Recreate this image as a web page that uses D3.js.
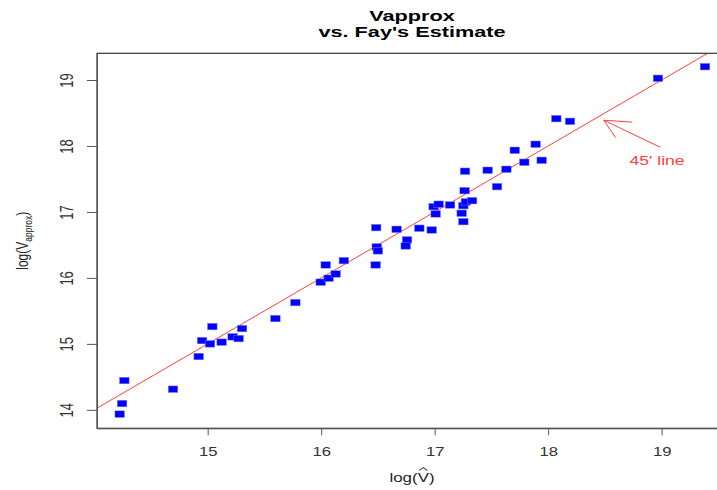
<!DOCTYPE html>
<html>
<head>
<meta charset="utf-8">
<script src="https://cdn.jsdelivr.net/npm/d3@7"></script>
<style>
  body { margin: 0; background: #fff; }
  svg { display: block; font-family: "Liberation Sans", Arial, sans-serif; }
</style>
</head>
<body>
<div id="chart"></div>
<script>
// log(V-hat) vs log(Vapprox)
const logVhat = [
  14.225, 14.246, 14.266, 14.695, 14.921, 14.951, 15.021, 15.041, 15.123, 15.22,
  15.273, 15.303, 15.597, 15.773, 15.996, 16.066, 16.128, 16.04, 16.2, 16.48,
  16.49, 16.50, 16.485, 16.665, 16.757, 16.745, 16.865, 16.974, 16.991, 17.035,
  17.009, 17.136, 17.264, 17.238, 17.253, 17.253, 17.275, 17.33, 17.268, 17.467,
  17.55, 17.632, 17.706, 17.79, 17.89, 17.943, 18.072, 18.193, 18.968, 19.382
];
const logVapprox = [
  13.935, 14.095, 14.444, 14.313, 14.808, 15.05, 15.0, 15.262, 15.026, 15.106,
  15.08, 15.232, 15.384, 15.626, 15.935, 15.995, 16.06, 16.197, 16.262, 16.197,
  16.47, 16.41, 16.762, 16.737, 16.576, 16.485, 16.753, 16.727, 17.08, 17.117,
  16.97, 17.106, 17.323, 16.98, 16.853, 17.095, 17.152, 17.171, 17.617, 17.632,
  17.383, 17.647, 17.935, 17.753, 18.026, 17.783, 18.414, 18.374, 19.026, 19.202
];
const xTicks = [15, 16, 17, 18, 19];
const yTicks = [14, 15, 16, 17, 18, 19];
const titleLines = ["Vapprox", "vs. Fay's Estimate"];
// arrow annotation in data units: [tail, tip], and label position
const arrowTail = [18.99, 17.98];
const arrowTip = [18.49, 18.39];
const noteAt = [18.96, 17.71];
const noteText = "45' line";

// original graphic was stretched sideways, text follows that
const SX = 1.5;
const width = 717, height = 490;
const layout = { left: 97, right: 732, top: 53.3, bottom: 428.3 };
const red = '#ff4040';

const svg = d3.select('#chart').append('svg')
  .attr('width', width)
  .attr('height', height);

const x = d3.scaleLinear().domain([14.025, 19.62]).range([layout.left, layout.right]);
const y = d3.scaleLinear().domain([13.72, 19.405]).range([layout.bottom, layout.top]);

svg.append('clipPath').attr('id', 'plotClip')
  .append('rect')
  .attr('x', layout.left).attr('y', layout.top)
  .attr('width', layout.right - layout.left)
  .attr('height', layout.bottom - layout.top);

// title
const titleG = svg.append('g')
  .attr('transform', `translate(412,0) scale(1.55,1)`);
titleG.selectAll('text').data(titleLines).enter().append('text')
  .attr('x', 0)
  .attr('y', (d, i) => 21 + i * 16)
  .attr('text-anchor', 'middle')
  .attr('font-weight', 'bold')
  .attr('font-size', 14)
  .attr('fill', '#000')
  .text(d => d);

// 45 degree line
const lineDomain = [13.5, 19.8];
svg.append('line')
  .attr('clip-path', 'url(#plotClip)')
  .attr('x1', x(lineDomain[0])).attr('y1', y(lineDomain[0]))
  .attr('x2', x(lineDomain[1])).attr('y2', y(lineDomain[1]))
  .attr('stroke', red)
  .attr('stroke-width', 1);

// points
const pts = logVhat.map((v, i) => ({ xValue: v, yValue: logVapprox[i] }));
svg.append('g').selectAll('rect').data(pts).enter().append('rect')
  .attr('x', d => x(d.xValue) - 4.75)
  .attr('y', d => y(d.yValue) - 3.25)
  .attr('width', 9.5)
  .attr('height', 6.5)
  .attr('fill', '#0000ff')
  .attr('stroke', '#7777ff')
  .attr('stroke-width', 0.5);

// box
svg.append('rect')
  .attr('x', layout.left).attr('y', layout.top)
  .attr('width', layout.right - layout.left)
  .attr('height', layout.bottom - layout.top)
  .attr('fill', 'none')
  .attr('stroke', '#333')
  .attr('stroke-width', 1.2);

// x axis
const xAxis = svg.append('g')
  .attr('transform', `translate(0,${layout.bottom})`)
  .call(d3.axisBottom(x).tickValues(xTicks).tickSize(7).tickSizeOuter(0).tickFormat(d3.format('d')));
xAxis.select('.domain').attr('stroke', '#555');
xAxis.selectAll('.tick line').attr('stroke', '#555');
xAxis.selectAll('.tick text')
  .attr('y', 0).attr('dy', 0)
  .attr('transform', 'translate(0,28) scale(1.28,1)')
  .attr('font-size', 13)
  .attr('font-family', '"Liberation Sans", Arial, sans-serif')
  .attr('fill', '#333');

// y axis
const yAxis = svg.append('g')
  .attr('transform', `translate(${layout.left},0)`)
  .call(d3.axisLeft(y).tickValues(yTicks).tickSize(10).tickSizeOuter(0).tickFormat(d3.format('d')));
yAxis.select('.domain').attr('stroke', '#555');
yAxis.selectAll('.tick line').attr('stroke', '#555');
yAxis.selectAll('.tick text')
  .attr('x', 0).attr('dy', 0)
  .attr('text-anchor', 'middle')
  .attr('transform', 'translate(-24,0) scale(1.4,1) rotate(-90)')
  .attr('font-size', 13)
  .attr('font-family', '"Liberation Sans", Arial, sans-serif')
  .attr('fill', '#333');

// x label: log(V-hat)
const xLab = svg.append('g')
  .attr('transform', `translate(412,482) scale(1.3,1)`);
const xLabText = xLab.append('text')
  .attr('text-anchor', 'middle')
  .attr('font-size', 13)
  .attr('fill', '#222')
  .text('log(V)');
const vStart = xLabText.node().getStartPositionOfChar(4).x;
const vEnd = xLabText.node().getEndPositionOfChar(4).x;
const vMid = (vStart + vEnd) / 2;
xLab.append('path')
  .attr('d', `M${vMid - 3.2},-11.5 L${vMid},-14.5 L${vMid + 3.2},-11.5`)
  .attr('fill', 'none')
  .attr('stroke', '#222')
  .attr('stroke-width', 0.9);

// y label: log(V_approx)
const yLab = svg.append('g')
  .attr('transform', `translate(28,${(layout.top + layout.bottom) / 2}) scale(1.3,1) rotate(-90)`);
const yLabText = yLab.append('text')
  .attr('text-anchor', 'middle')
  .attr('font-size', 12)
  .attr('fill', '#222');
yLabText.append('tspan').text('log(V');
yLabText.append('tspan').attr('font-size', 8.5).attr('dy', 3).text('approx');
yLabText.append('tspan').attr('dy', -3).text(')');

// arrow annotation
const tipPx = [x(arrowTip[0]), y(arrowTip[1])];
const tailPx = [x(arrowTail[0]), y(arrowTail[1])];
const ang = Math.atan2(tailPx[1] - tipPx[1], (tailPx[0] - tipPx[0]) / SX);
const headLen = 19;
const heads = [ang - Math.PI / 6, ang + Math.PI / 6].map(a => [
  tipPx[0] + headLen * Math.cos(a) * SX,
  tipPx[1] + headLen * Math.sin(a)
]);
const arrowG = svg.append('g').attr('stroke', red).attr('stroke-width', 1).attr('fill', 'none');
arrowG.append('path')
  .attr('d', d3.line()([tailPx, tipPx]));
arrowG.append('path')
  .attr('d', d3.line()([heads[0], tipPx, heads[1]]));

svg.append('g')
  .attr('transform', `translate(${x(noteAt[0])},${y(noteAt[1])}) scale(1.35,1)`)
  .append('text')
  .attr('text-anchor', 'middle')
  .attr('font-size', 13)
  .attr('fill', red)
  .text(noteText);
</script>
</body>
</html>
